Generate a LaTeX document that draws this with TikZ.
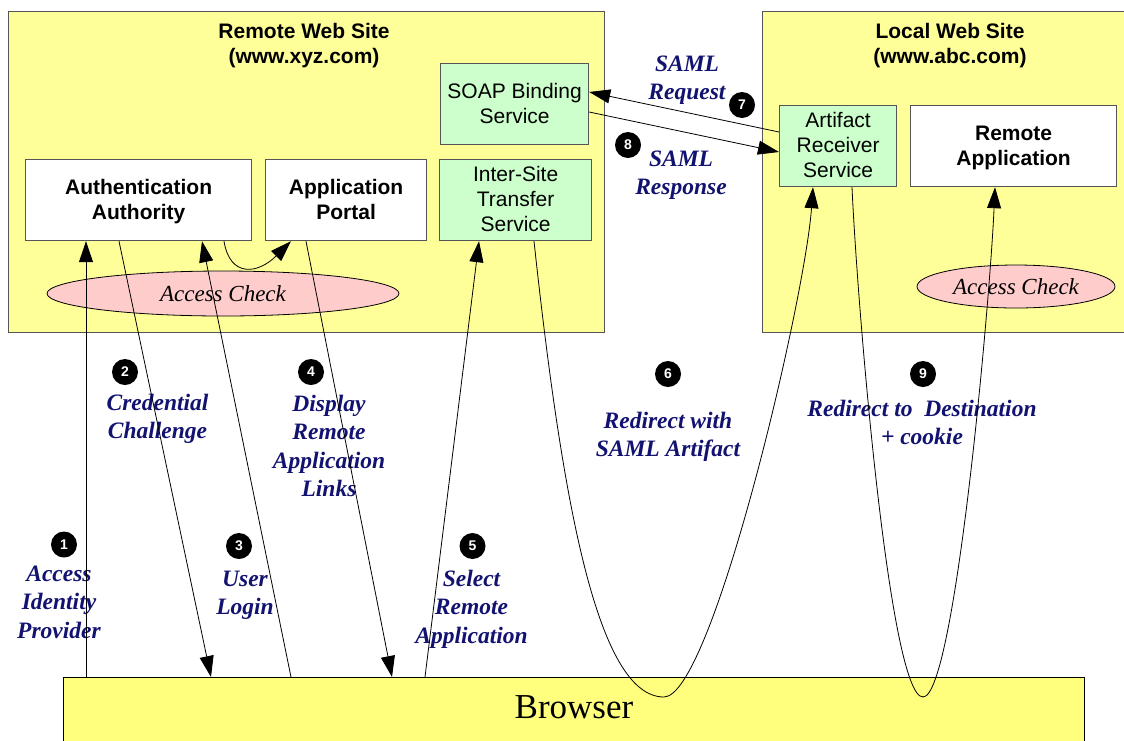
\documentclass[tikz,border=0pt]{standalone}
\usepackage{fontspec}
\setmainfont{Liberation Serif}
\setsansfont{Liberation Sans}
\usetikzlibrary{arrows.meta,shapes.geometric}

\definecolor{siteyellow}{RGB}{255,255,153}
\definecolor{browseryellow}{RGB}{255,255,125}
\definecolor{svcgreen}{RGB}{204,255,204}
\definecolor{checkpink}{RGB}{255,204,204}
\definecolor{stepblue}{RGB}{18,18,112}
\definecolor{edgegray}{RGB}{85,85,85}

% line strut for the text inside the service boxes
\newcommand\bxs{\vrule height 19pt depth 6pt width 0pt}

\begin{document}
\begin{tikzpicture}[x=1pt,y=-1pt,
  site/.style={draw=edgegray, line width=1.4pt, fill=siteyellow,
    anchor=north west, inner sep=0pt},
  sitetitle/.style={anchor=north, inner sep=0pt, align=center,
    font=\sffamily\bfseries\fontsize{21}{25.5}\selectfont},
  appbox/.style={draw=edgegray, line width=1.2pt, fill=white,
    anchor=north west, inner sep=0pt, align=center,
    font=\sffamily\bfseries\fontsize{21}{25}\selectfont},
  svcbox/.style={appbox, fill=svcgreen,
    font=\sffamily\fontsize{21}{25}\selectfont},
  check/.style={ellipse, draw=black, line width=0.8pt, fill=checkpink,
    inner sep=0pt, font=\itshape\fontsize{23}{27}\selectfont},
  num/.style={circle, fill=black, inner sep=0pt, minimum size=26pt,
    text=white, font=\sffamily\bfseries\fontsize{14}{16}\selectfont},
  lbl/.style={anchor=north, inner sep=0pt, align=center, text=stepblue,
    font=\bfseries\itshape\fontsize{23.5}{28.5}\selectfont},
  conn/.style={line width=0.8pt, -{Triangle[length=21pt,width=14pt]}}]

\useasboundingbox (0,0) rectangle (1124,740);

% the two web sites
\node[site, minimum width=596pt, minimum height=321pt] (remote) at (8,11) {};
\node[site, minimum width=390pt, minimum height=321pt] (local) at (762,11) {};
\node[sitetitle] (remotetitle) at (304,20) {\strut Remote Web Site\\\strut (www.xyz.com)};
\node[sitetitle] (localtitle) at (950,20) {\strut Local Web Site\\\strut (www.abc.com)};

% services of the remote site
\node[appbox, minimum width=226pt, minimum height=81pt] (aa) at (25,159)
  {\bxs Authentication\\\bxs Authority};
\node[appbox, minimum width=161pt, minimum height=81pt] (ap) at (265,159)
  {\bxs Application\\\bxs Portal};
\node[svcbox, minimum width=152pt, minimum height=81pt] (ists) at (439,159)
  {\bxs Inter-Site\\\bxs Transfer\\\bxs Service};
\node[svcbox, minimum width=148pt, minimum height=81pt] (soap) at (440,63)
  {\bxs SOAP Binding\\\bxs Service};

% services of the local site
\node[svcbox, minimum width=117pt, minimum height=81pt] (ars) at (779,105)
  {\bxs Artifact\\\bxs Receiver\\\bxs Service};
\node[appbox, minimum width=206pt, minimum height=81pt] (ra) at (910,105)
  {\bxs Remote\\\bxs Application};

% access checks
\node[check, minimum width=352pt, minimum height=45pt] (chkremote) at (223,293.5) {Access Check};
\node[check, minimum width=198pt, minimum height=43pt] (chklocal) at (1016,286.5) {Access Check};

% the browser
\node[draw=black, line width=1pt, fill=browseryellow, anchor=north west,
  inner sep=0pt, minimum width=1021pt, minimum height=80pt,
  text height=24pt, text depth=22pt,
  font=\fontsize{35}{40}\selectfont] (browser) at (63,677) {Browser};

% step labels
\node[lbl] (t1) at (59,561) {\strut Access\\\strut Identity\\\strut Provider};
\node[lbl] (t2) at (157.5,390) {\strut Credential\\\strut Challenge};
\node[lbl] (t3) at (245,566) {\strut User\\\strut Login};
\node[lbl] (t4) at (329,391) {\strut Display\\\strut Remote\\\strut Application\\\strut Links};
\node[lbl] (t5) at (471.5,566) {\strut Select\\\strut Remote\\\strut Application};
\node[lbl] (t6) at (668,408) {\strut Redirect with\\\strut SAML Artifact};
\node[lbl] (t7) at (687,51) {\strut SAML\\\strut Request};
\node[lbl] (t8) at (681,146) {\strut SAML\\\strut Response};
\node[lbl] (t9) at (922,396) {\strut Redirect to~ Destination\\\strut + cookie};

% step numbers
\node[num] (n1) at (64,544.5) {1};
\node[num] (n2) at (125,372) {2};
\node[num] (n3) at (239,546) {3};
\node[num] (n4) at (311,372) {4};
\node[num] (n5) at (472.5,546) {5};
\node[num] (n6) at (668,374) {6};
\node[num] (n7) at (742,105) {7};
\node[num] (n8) at (628,145) {8};
\node[num] (n9) at (923,374) {9};

% message flow
\draw[conn] (browser.north -| 86,0) -- (aa.south -| 86,0);
\draw[conn] (aa.south -| 119,0) -- (browser.north -| 211,0);
\draw[conn] (browser.north -| 291,0) -- (aa.south -| 202,0);
\draw[conn] (aa.south -| 224,0) .. controls (230,278) and (258,274) .. (ap.south -| 291,0);
\draw[conn] (ap.south -| 306,0) -- (browser.north -| 392,0);
\draw[conn] (browser.north -| 425,0) -- (ists.south -| 479,0);
\draw[conn] (ists.south -| 534,0) .. controls (562,500) and (597,697) .. (664,697)
  .. controls (712,697) and (805,300) .. (ars.south -| 813,0);
\draw[conn] (ars.west |- 0,132) -- (soap.east |- 0,92);
\draw[conn] (soap.east |- 0,112) -- (ars.west |- 0,152);
\draw[conn] (ars.south -| 852,0) .. controls (857,300) and (889,697) .. (923,697)
  .. controls (955,697) and (990,300) .. (ra.south -| 995,0);
\end{tikzpicture}
\end{document}
